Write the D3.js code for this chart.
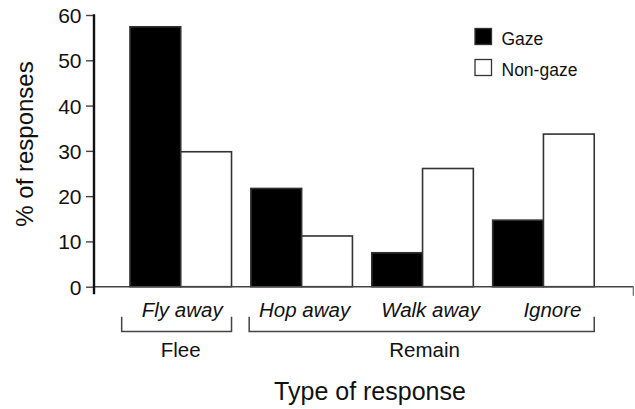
<!DOCTYPE html>
<html>
<head>
<meta charset="utf-8">
<script src="https://cdn.jsdelivr.net/npm/d3@7"></script>
<style>
  body { margin: 0; background: #fff; }
  svg text { font-family: "Liberation Sans", Arial, sans-serif; fill: #111; }
</style>
</head>
<body>
<div id="plotSect"></div>
<script>
// data
let categories = ["Fly away", "Hop away", "Walk away", "Ignore"];
let gaze = [57.4, 21.7, 7.5, 14.7];
let nonGaze = [29.8, 11.2, 26.1, 33.7];
let series = ["Gaze", "Non-gaze"];
let yTicks = [0, 10, 20, 30, 40, 50, 60];
let groups = [
    {name: "Flee", from: "Fly away", to: "Fly away"},
    {name: "Remain", from: "Hop away", to: "Ignore"}
];

let SVGwidth = 635,
    SVGheight = 409;

let svg = d3.select("#plotSect").append("svg")
    .attr("width", SVGwidth)
    .attr("height", SVGheight);

let xScale = d3.scaleBand()
    .domain(categories)
    .range([120.3, 603.9])
    .paddingInner(0.16)
    .paddingOuter(0.08);

let xSub = d3.scaleBand()
    .domain(series)
    .range([0, xScale.bandwidth()]);

let yScale = d3.scaleLinear()
    .domain([0, 60])
    .range([286.7, 15]);

function color(s) {
    return s == "Gaze" ? "#000" : "#fff";
}

// bars
let rows = categories.map(function(c, i) {
    return [{cat: c, s: "Gaze", v: gaze[i]}, {cat: c, s: "Non-gaze", v: nonGaze[i]}];
});

svg.selectAll(".grp")
    .data(rows)
    .enter().append("g")
    .attr("class", "grp")
    .attr("transform", function(d) { return "translate(" + xScale(d[0].cat) + ",0)"; })
    .selectAll("rect")
    .data(function(d) { return d; })
    .enter().append("rect")
    .attr("x", function(d) { return xSub(d.s); })
    .attr("y", function(d) { return yScale(d.v); })
    .attr("width", xSub.bandwidth())
    .attr("height", function(d) { return yScale(0) - yScale(d.v); })
    .style("fill", function(d) { return color(d.s); })
    .style("stroke", "#333")
    .style("stroke-width", 1.6);

// x axis line
let x0 = 94, xEnd = 633.3;
svg.append("line")
    .attr("x1", x0).attr("x2", xEnd)
    .attr("y1", yScale(0)).attr("y2", yScale(0))
    .style("stroke", "#444").style("stroke-width", 1.6);
svg.append("line")
    .attr("x1", xEnd).attr("x2", xEnd)
    .attr("y1", yScale(0)).attr("y2", yScale(0) + 9)
    .style("stroke", "#666").style("stroke-width", 1.2);

// y axis
let yAxis = d3.axisLeft(yScale)
    .tickValues(yTicks)
    .tickSize(8)
    .tickPadding(4.5);

let yG = svg.append("g")
    .attr("class", "yAxis")
    .attr("transform", "translate(" + x0 + ",0)")
    .call(yAxis);
yG.select(".domain").remove();
yG.selectAll(".tick line").style("stroke", "#444").style("stroke-width", 1.4);
yG.selectAll(".tick text")
    .style("font-size", "21px")
    .style("font-family", "'Liberation Sans', Arial, sans-serif")
    .attr("fill", "#111")
    .attr("dy", "0.36em");
svg.append("line")
    .attr("x1", x0).attr("x2", x0)
    .attr("y1", yScale(60) - 0.7).attr("y2", yScale(0) + 7.5)
    .style("stroke", "#111").style("stroke-width", 2.4);

// category labels
let labelShift = [1.5, 3, 8, 9];
svg.selectAll(".catLabel")
    .data(categories)
    .enter().append("text")
    .attr("class", "catLabel")
    .attr("x", function(d, i) { return xScale(d) + xScale.bandwidth() / 2 + labelShift[i]; })
    .attr("y", 316.7)
    .style("text-anchor", "middle")
    .style("font-style", "italic")
    .style("font-size", "20.5px")
    .text(function(d) { return d; });

// brackets
let bracketPad = {"Flee": 8.3, "Remain": 1.7};
let bTop = 316.7, bBot = 331.5;
groups.forEach(function(g) {
    let l = xScale(g.from) - bracketPad[g.name];
    let r = xScale(g.to) + xScale.bandwidth();
    svg.append("path")
        .attr("d", "M" + l + "," + bTop + "V" + bBot + "H" + r + "V" + bTop)
        .style("fill", "none")
        .style("stroke", "#444")
        .style("stroke-width", 1.5);
    svg.append("text")
        .attr("x", (xScale(g.from) + r) / 2 + (g.name == "Remain" ? 2 : 0))
        .attr("y", 356.5)
        .style("text-anchor", "middle")
        .style("font-size", "20.5px")
        .text(g.name);
});

// axis titles
svg.append("text")
    .attr("x", 370)
    .attr("y", 399.5)
    .style("text-anchor", "middle")
    .style("font-size", "25px")
    .text("Type of response");

svg.append("text")
    .attr("transform", "translate(33,144) rotate(-90)")
    .style("text-anchor", "middle")
    .style("font-size", "24px")
    .text("% of responses");

// legend
let legend = svg.selectAll(".legend")
    .data(series)
    .enter().append("g")
    .attr("class", "legend")
    .attr("transform", function(d, i) { return "translate(475," + (28.5 + i * 31) + ")"; });

legend.append("rect")
    .attr("width", 16.5)
    .attr("height", 16)
    .style("fill", color)
    .style("stroke", "#333")
    .style("stroke-width", 1.3);

legend.append("text")
    .attr("x", 26.5)
    .attr("y", 16.8)
    .style("font-size", "17.5px")
    .text(function(d) { return d; });
</script>
</body>
</html>
